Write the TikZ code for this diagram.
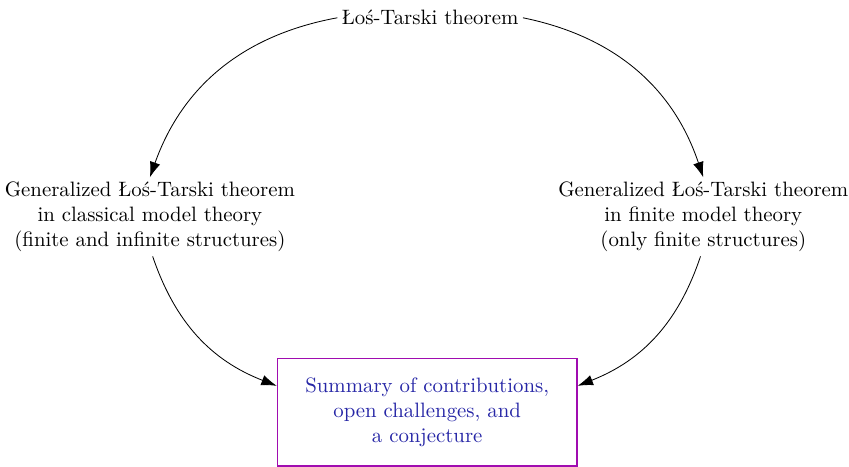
\documentclass[tikz,border=0pt]{standalone}
\usepackage{tikz}
\usetikzlibrary{arrows.meta, positioning}
\definecolor{summaryblue}{HTML}{2626A6}
\definecolor{summaryframe}{HTML}{A00CB0}

\begin{document}
\begin{tikzpicture}[
  thm/.style={align=center, inner sep=2pt},
  summary/.style={draw=summaryframe, thick, text=summaryblue, align=center,
    minimum width=5.05cm, minimum height=1.82cm},
  link/.style={-{Latex[length=2.6mm, width=1.8mm]}, thin}
]
  \useasboundingbox (0,0) rectangle (14.33,-7.87);

  \node[thm] (los) at (7.26, -0.30) {Łoś-Tarski theorem};

  \node[thm] (classical) at (2.53, -3.66) {
    Generalized Łoś-Tarski theorem\\
    in classical model theory\\
    (finite and infinite structures)
  };

  \node[thm] (finite) at (11.87, -3.66) {
    Generalized Łoś-Tarski theorem\\
    in finite model theory\\
    (only finite structures)
  };

  \node[summary] (sum) at (7.21, -6.96) {
    Summary of contributions,\\
    open challenges, and\\
    a conjecture
  };

  \draw[link] (los.west) to[bend right=30] (classical.north);
  \draw[link] (los.east) to[bend left=30] (finite.north);
  \draw[link] (classical.-86) to[bend right=25] (sum.170);
  \draw[link] (finite.-94) to[bend left=25] (sum.10);
\end{tikzpicture}
\end{document}
